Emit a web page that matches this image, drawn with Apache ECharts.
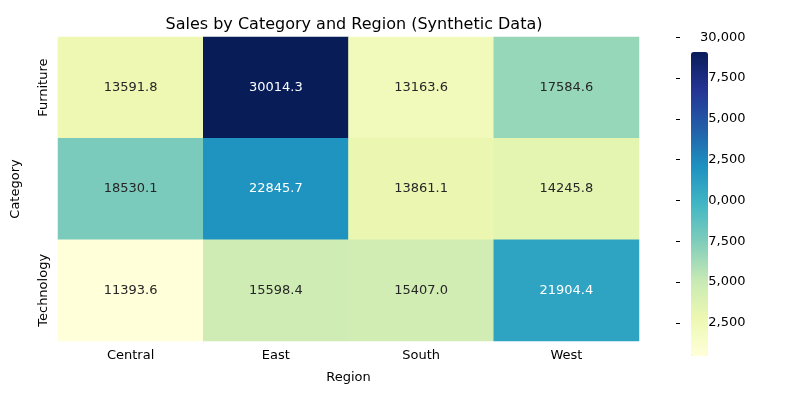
<!DOCTYPE html>
<html><head><meta charset="utf-8">
<script src="https://cdn.jsdelivr.net/npm/echarts@6/dist/echarts.min.js"></script>
<style>html,body{margin:0;padding:0;background:#fff}#c{width:800px;height:400px}</style>
</head><body><div id="c"></div>
<script>
const regions = ['Central','East','South','West'];
const categories = ['Furniture','Office Supplies','Technology'];
const values = [
  [13591.8, 30014.3, 13163.6, 17584.6],
  [18530.1, 22845.7, 13861.1, 14245.8],
  [11393.6, 15598.4, 15407.0, 21904.4]
];
const cbTicks = [12500,15000,17500,20000,22500,25000,27500,30000];
const vmin = 11393.6, vmax = 30014.3;
const data = [];
categories.forEach((c,i)=>regions.forEach((r,j)=>{
  const v = values[i][j];
  data.push({value:[j,i,v], label:{color: v>20500?'#fff':'#262626'}});
}));
const font = {fontFamily:'DejaVu Sans', fontSize:13, color:'#000'};
const chart = echarts.init(document.getElementById('c'));
chart.setOption({
  animation:false,
  title:{text:'Sales by Category and Region (Synthetic Data)', left:349, top:12, textAlign:'center',
    textStyle:{fontFamily:'DejaVu Sans', fontSize:16, fontWeight:'normal', color:'#000'}},
  grid:[{left:58, top:37, width:581, height:304},{left:676, top:37, width:17, height:304}],
  xAxis:[
    {type:'category', data:regions, gridIndex:0, name:'Region', nameLocation:'middle', nameGap:30,
     nameTextStyle:font, axisLabel:Object.assign({margin:8},font),
     axisTick:{alignWithLabel:true, length:4, lineStyle:{color:'#000'}}, axisLine:{show:false}, splitLine:{show:false}},
    {type:'value', gridIndex:1, show:false}
  ],
  yAxis:[
    {type:'category', data:categories, inverse:true, gridIndex:0, name:'Category', nameLocation:'middle', nameGap:36,
     nameTextStyle:font, axisLabel:Object.assign({rotate:90, margin:8, align:'center'},font),
     axisTick:{alignWithLabel:true, length:4, lineStyle:{color:'#000'}}, axisLine:{show:false}, splitLine:{show:false}},
    {type:'value', gridIndex:1, position:'right', min:vmin, max:vmax,
     axisLine:{show:false}, splitLine:{show:false},
     axisTick:{show:true, length:4, lineStyle:{color:'#000'}, customValues:cbTicks},
     axisLabel:Object.assign({margin:7, customValues:cbTicks},font)}
  ],
  visualMap:{type:'continuous', min:vmin, max:vmax, seriesIndex:0, show:true, calculable:false,
    left:676, top:37, itemWidth:17, itemHeight:304, text:null, showLabel:false,
    textStyle:{color:'transparent'},
    inRange:{color:['#ffffd9','#edf8b1','#c7e9b4','#7fcdbb','#41b6c4','#1d91c0','#225ea8','#253494','#081d58']}},
  series:[
    {type:'heatmap', xAxisIndex:0, yAxisIndex:0, data:data,
     label:{show:true, fontFamily:'DejaVu Sans', fontSize:13, formatter:p=>p.value[2].toFixed(1)},
     itemStyle:{borderWidth:0}, emphasis:{disabled:true}},
    {type:'line', xAxisIndex:1, yAxisIndex:1, data:[]}
  ]
});
</script></body></html>
